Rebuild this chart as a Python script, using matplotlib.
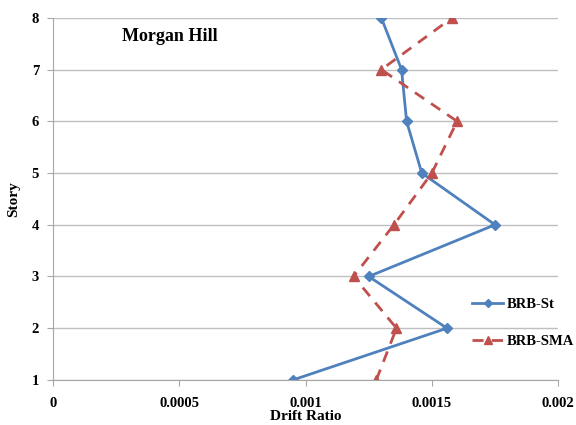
import matplotlib
matplotlib.use("Agg")
import matplotlib.pyplot as plt

stories = [1, 2, 3, 4, 5, 6, 7, 8]
brb_st = [0.00095, 0.00156, 0.00125, 0.00175, 0.00146, 0.00140, 0.00138, 0.00130]
brb_sma = [0.00128, 0.00136, 0.00119, 0.00135, 0.00150, 0.00160, 0.00130, 0.00158]
xticks = [0, 0.0005, 0.001, 0.0015, 0.002]
xticklabels = ["0", "0.0005", "0.001", "0.0015", "0.002"]
yticks = [1, 2, 3, 4, 5, 6, 7, 8]

plt.rcParams['font.family'] = ['Liberation Serif', 'DejaVu Serif']

fig = plt.figure(figsize=(5.76, 4.25), dpi=100)
ax = fig.add_axes([0.092, 0.106, 0.877, 0.852])

l1, = ax.plot(brb_st, stories, color='#4F81BD', lw=2, marker='D', ms=5,
              label='BRB-St')
l2, = ax.plot(brb_sma, stories, color='#C0504D', lw=2, ls=(0, (4, 3)), marker='^',
              ms=7, label='BRB-SMA')

ax.set_xlim(0, 0.002)
ax.set_ylim(1, 8)
ax.set_xticks(xticks)
ax.set_xticklabels(xticklabels, fontsize=10.5, fontweight='bold')
ax.set_yticks(yticks)
ax.set_yticklabels([str(v) for v in yticks], fontsize=10.5, fontweight='bold')
ax.yaxis.grid(True, color='#BFBFBF', lw=1)
ax.set_axisbelow(True)
for s in ['top', 'right']:
    ax.spines[s].set_visible(False)
ax.spines['left'].set_color('#A6A6A6')
ax.spines['bottom'].set_color('#A6A6A6')
ax.tick_params(axis='both', color='#A6A6A6', length=4, direction='out')
ax.tick_params(axis='x', pad=8)
ax.tick_params(axis='y', pad=6)

ax.set_xlabel('Drift Ratio', fontsize=11, fontweight='bold', labelpad=0)
ax.set_ylabel('Story', fontsize=11, fontweight='bold', labelpad=8)

fig.text(0.212, 0.915, 'Morgan Hill', fontsize=13, fontweight='bold', va='center')

leg = fig.legend(handles=[l1, l2], loc='center left', bbox_to_anchor=(0.81, 0.24),
                 frameon=False, prop={'weight': 'bold', 'size': 10.5},
                 handlelength=2.1, labelspacing=1.65, handletextpad=0.25,
                 borderaxespad=0, markerscale=0.85)

fig.savefig('out.png', dpi=100)
